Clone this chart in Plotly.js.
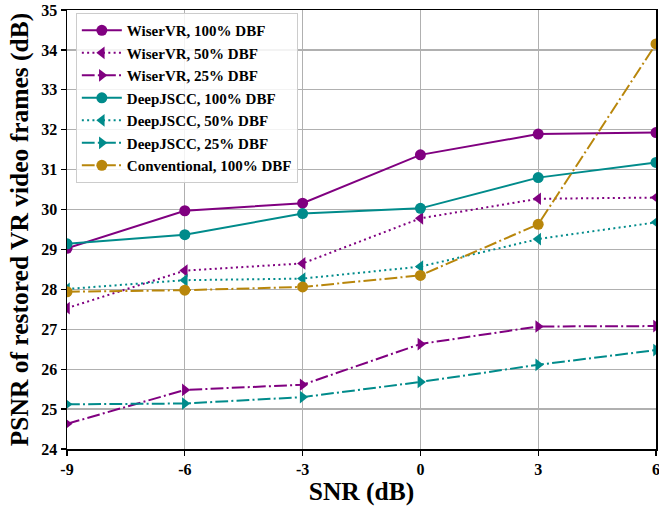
<!DOCTYPE html>
<html>
<head>
<meta charset="utf-8">
<script src="https://cdn.plot.ly/plotly-3.0.1.min.js"></script>
<style>html,body{margin:0;padding:0;background:#fff;}#chart{width:659px;height:506px;}</style>
</head>
<body>
<div id="chart"></div>
<script>
const snr = [-9, -6, -3, 0, 3, 6];
const seriesNames = ["WiserVR, 100% DBF", "WiserVR, 50% DBF", "WiserVR, 25% DBF",
  "DeepJSCC, 100% DBF", "DeepJSCC, 50% DBF", "DeepJSCC, 25% DBF", "Conventional, 100% DBF"];
const wiser100 = [29.03, 29.97, 30.16, 31.37, 31.89, 31.93];
const wiser50 = [27.53, 28.47, 28.65, 29.78, 30.27, 30.30];
const wiser25 = [24.63, 25.48, 25.61, 26.63, 27.07, 27.08];
const deep100 = [29.14, 29.37, 29.90, 30.03, 30.80, 31.18];
const deep50 = [28.01, 28.23, 28.27, 28.57, 29.26, 29.68];
const deep25 = [25.12, 25.14, 25.30, 25.68, 26.11, 26.48];
const conv100 = [27.94, 27.98, 28.06, 28.35, 29.63, 34.15];
const xTicks = [-9, -6, -3, 0, 3, 6];
const yTicks = [24, 25, 26, 27, 28, 29, 30, 31, 32, 33, 34, 35];

const purple = "#800080", teal = "#008B8B", gold = "#B8860B";
const dotted = "2px,3.3px";
const dashdot = "12.8px,3.2px,2px,3.2px";
function tr(y, name, color, dash, symbol) {
  return {x: snr, y: y, name: name, type: "scatter", mode: "lines+markers",
    line: {color: color, width: 2, dash: dash},
    marker: {color: color, size: 11, symbol: symbol}};
}
const data = [
  tr(wiser100, seriesNames[0], purple, "solid", "circle"),
  tr(wiser50, seriesNames[1], purple, dotted, "triangle-left"),
  tr(wiser25, seriesNames[2], purple, dashdot, "triangle-right"),
  tr(deep100, seriesNames[3], teal, "solid", "circle"),
  tr(deep50, seriesNames[4], teal, dotted, "triangle-left"),
  tr(deep25, seriesNames[5], teal, dashdot, "triangle-right"),
  tr(conv100, seriesNames[6], gold, dashdot, "circle")
];
const fnt = "Liberation Serif, Times New Roman, serif";
const layout = {
  width: 659, height: 506,
  margin: {l: 67, r: 3, t: 10, b: 57},
  paper_bgcolor: "#fff", plot_bgcolor: "#fff",
  font: {family: fnt, color: "#000", weight: "bold"},
  xaxis: {range: [-9, 6], tickvals: xTicks, ticktext: xTicks.map(String),
    showgrid: true, gridcolor: "#b0b0b0", gridwidth: 1.2,
    showline: true, linecolor: "#000", linewidth: 1.5, mirror: true,
    ticks: "outside", ticklen: 5, tickwidth: 1.2, tickcolor: "#000",
    ticklabeloverflow: "allow",
    tickfont: {family: fnt, size: 16, weight: "bold"}, zeroline: false,
    title: {text: "SNR (dB)", font: {family: fnt, size: 25.5, weight: "bold"}, standoff: 3}},
  yaxis: {range: [24, 35], tickvals: yTicks, ticktext: yTicks.map(String),
    showgrid: true, gridcolor: "#b0b0b0", gridwidth: 1.2,
    showline: true, linecolor: "#000", linewidth: 1.5, mirror: true,
    ticks: "outside", ticklen: 5, tickwidth: 1.2, tickcolor: "#000",
    ticklabeloverflow: "allow",
    tickfont: {family: fnt, size: 16, weight: "bold"}, zeroline: false,
    title: {text: "PSNR of restored VR video frames (dB)", font: {family: fnt, size: 25.5, weight: "bold"}, standoff: 5}},
  legend: {x: 0.015, y: 0.993, xanchor: "left", yanchor: "top",
    bgcolor: "rgba(255,255,255,0.85)", bordercolor: "#cccccc", borderwidth: 1,
    font: {family: fnt, size: 15, weight: "bold"}, tracegroupgap: 0, itemwidth: 40},
  showlegend: true
};
Plotly.newPlot("chart", data, layout, {displayModeBar: false, staticPlot: true});
</script>
</body>
</html>
